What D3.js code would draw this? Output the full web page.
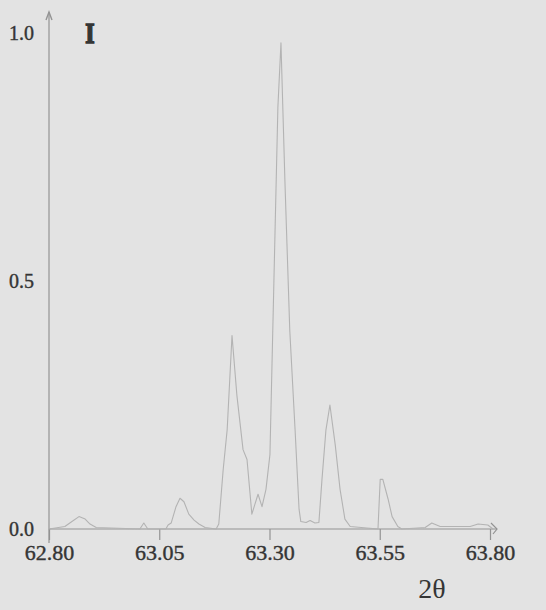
<!DOCTYPE html>
<html>
<head>
<meta charset="utf-8">
<script src="https://cdn.jsdelivr.net/npm/d3@7"></script>
<style>
  body { margin: 0; background: #e3e3e3; }
  svg { display: block; }
</style>
</head>
<body>
<div id="chart"></div>
<script>
// XRD profile, 2θ scan 62.80 .. 63.80, normalised intensity
const two_theta = [
	62.800, 62.836, 62.852, 62.868, 62.882, 62.893, 62.907, 63.006, 63.015, 63.024,
	63.065, 63.070, 63.077, 63.088, 63.097, 63.106, 63.117, 63.129, 63.140, 63.154,
	63.179, 63.185, 63.195, 63.204, 63.215, 63.226, 63.240, 63.249, 63.260, 63.267,
	63.274, 63.283, 63.292, 63.301, 63.310, 63.319, 63.326, 63.335, 63.346, 63.358,
	63.367, 63.371, 63.383, 63.392, 63.403, 63.412, 63.419, 63.428, 63.437, 63.449,
	63.460, 63.471, 63.483, 63.546, 63.551, 63.557, 63.569, 63.578, 63.591, 63.600,
	63.653, 63.668, 63.687, 63.755, 63.773, 63.795, 63.807
];
const intensity = [
	0.000, 0.005, 0.015, 0.025, 0.020, 0.010, 0.003, 0.000, 0.012, 0.000,
	0.000, 0.008, 0.012, 0.045, 0.062, 0.055, 0.030, 0.018, 0.010, 0.003,
	0.000, 0.010, 0.120, 0.200, 0.390, 0.270, 0.160, 0.140, 0.030, 0.050,
	0.070, 0.045, 0.080, 0.150, 0.500, 0.850, 0.980, 0.700, 0.400, 0.200,
	0.040, 0.015, 0.013, 0.017, 0.012, 0.013, 0.100, 0.200, 0.250, 0.170,
	0.080, 0.020, 0.005, 0.000, 0.100, 0.100, 0.060, 0.025, 0.005, 0.000,
	0.003, 0.012, 0.005, 0.005, 0.010, 0.008, 0.000
];
const x_ticks = [62.80, 63.05, 63.30, 63.55, 63.80];
const y_ticks = [0.0, 0.5, 1.0];

const width = 546;
const height = 610;
const axis_col = "#939393";
const text_col = "#353535";
const font = "'Liberation Serif', 'DejaVu Serif', serif";

let svg = d3.select("#chart").append("svg")
	.attr("width", width)
	.attr("height", height);

svg.append("rect")
	.attr("width", width)
	.attr("height", height)
	.attr("fill", "#e3e3e3");

const x = d3.scaleLinear().domain([62.80, 63.80]).range([49, 490]);
const y = d3.scaleLinear().domain([0, 1]).range([529, 33]);

// x axis (ticks only, own line with arrow)
let x_axis = svg.append("g")
	.attr("transform", `translate(0,${y(0)})`)
	.call(d3.axisBottom(x).tickValues(x_ticks).tickSize(11).tickPadding(4).tickFormat(d3.format(".2f")));
x_axis.select(".domain").remove();
x_axis.selectAll("line").attr("stroke", axis_col).attr("stroke-width", 1.2);
x_axis.selectAll("text")
	.attr("fill", text_col)
	.attr("stroke", text_col)
	.attr("stroke-width", 0.4)
	.style("font-family", font)
	.style("font-size", "22px");

// y axis labels only
let y_axis = svg.append("g")
	.attr("transform", `translate(${x(62.80)},0)`)
	.call(d3.axisLeft(y).tickValues(y_ticks).tickSize(0).tickPadding(15).tickFormat(d3.format(".1f")));
y_axis.select(".domain").remove();
y_axis.selectAll("text")
	.attr("fill", text_col)
	.attr("stroke", text_col)
	.attr("stroke-width", 0.4)
	.style("font-family", font)
	.style("font-size", "20px");

// axis lines with arrowheads
const x0 = x(62.80), y0 = y(0);
svg.append("line")
	.attr("x1", x0).attr("y1", y0)
	.attr("x2", 497).attr("y2", y0)
	.attr("stroke", axis_col).attr("stroke-width", 1.2);
svg.append("path")
	.attr("d", `M${491},${y0 - 6} L${497},${y0} L${493},${y0 + 5}`)
	.attr("fill", "none").attr("stroke", axis_col).attr("stroke-width", 1.2);
svg.append("line")
	.attr("x1", x0).attr("y1", y0 + 14)
	.attr("x2", x0).attr("y2", 12)
	.attr("stroke", axis_col).attr("stroke-width", 1.2);
svg.append("path")
	.attr("d", `M${x0 - 3},${20} L${x0},${12} L${x0 + 3},${20}`)
	.attr("fill", "none").attr("stroke", axis_col).attr("stroke-width", 1.4);

// profile
const pts = two_theta.map((t, i) => [t, intensity[i]]);
svg.append("path")
	.datum(pts)
	.attr("d", d3.line().x(d => x(d[0])).y(d => y(d[1])))
	.attr("fill", "none")
	.attr("stroke", "#b3b3b3")
	.attr("stroke-width", 1.1)
	.attr("stroke-linejoin", "round");

// axis titles
svg.append("text")
	.attr("transform", "translate(90,43) scale(0.8,1)")
	.attr("text-anchor", "middle")
	.attr("fill", text_col)
	.attr("stroke", text_col)
	.attr("stroke-width", 1.6)
	.attr("font-weight", "bold")
	.style("font-family", font)
	.style("font-size", "30px")
	.text("I");

svg.append("text")
	.attr("x", 432).attr("y", 598)
	.attr("text-anchor", "middle")
	.attr("fill", text_col)
	.style("font-family", font)
	.style("font-size", "28px")
	.text("2θ");
</script>
</body>
</html>
